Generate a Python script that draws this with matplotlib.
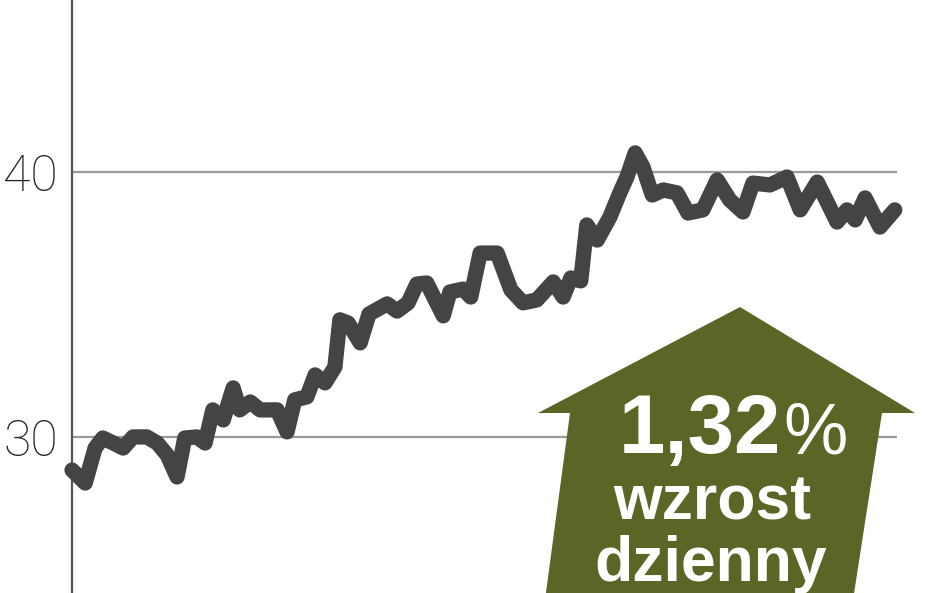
import matplotlib
matplotlib.use('Agg')
import matplotlib.pyplot as plt
from matplotlib.patches import Polygon

# notowania (dzien sesji, kurs)
dni = [0, 2.4, 4.2, 5.6, 7.5, 9.3, 11.1, 13.6, 15.5, 17.3, 19.1, 20.5, 22.7, 24.2,
       25.6, 27.5, 29.3, 30.5, 32.4, 34.2, 37.3, 39.1, 40.5, 42.7, 44.2, 46.0,
       47.8, 48.7, 50.2, 52.4, 54.0, 57.3, 59.1, 61.1, 62.7, 64.5, 67.5, 68.7,
       71.1, 72.5, 74.2, 77.3, 79.8, 82.0, 84.5, 87.5, 89.3, 90.7, 92.5, 93.6,
       95.5, 97.8, 99.6, 100.9, 102.4, 103.8, 105.5, 107.5, 110.0, 112.0, 114.7,
       117.3, 119.6, 122.0, 123.8, 126.9, 130.0, 132.4, 135.5, 139.1, 140.9,
       142.4, 144.2, 146.9, 149.6]
kurs = [28.75, 28.26, 29.58, 29.96, 29.77, 29.58, 30.0, 30.0, 29.77, 29.32, 28.49,
        29.96, 30.0, 29.77, 31.02, 30.64, 31.85, 31.02, 31.32, 31.02, 31.02, 30.19,
        31.40, 31.51, 32.34, 32.04, 32.64, 34.42, 34.30, 33.55, 34.64, 35.02, 34.75,
        35.06, 35.77, 35.81, 34.57, 35.47, 35.58, 35.28, 36.94, 36.94, 35.55, 35.06,
        35.17, 35.85, 35.28, 36.0, 35.89, 38.0, 37.43, 38.30, 39.21, 39.81, 40.72,
        40.19, 39.13, 39.32, 39.21, 38.45, 38.57, 39.70, 38.94, 38.49, 39.58, 39.51,
        39.81, 38.57, 39.62, 38.11, 38.57, 38.19, 39.02, 37.92, 38.57]

yticks = [30, 40]
zmiana = '1,32'

W, H = 948, 593
fig = plt.figure(figsize=(W / 100, H / 100), dpi=100)
fig.patch.set_facecolor('white')

ax = fig.add_axes([72 / W, 0, (897 - 72) / W, 1])
ax.set_xlim(0, 150)
ax.set_ylim(24.11, 46.49)

ax.plot(dni, kurs, color='#444444', lw=11, solid_joinstyle='round',
        solid_capstyle='round', clip_on=False, zorder=3)

ax.set_yticks(yticks)
ax.set_yticklabels([str(t) for t in yticks], fontsize=36, color='#222222',
                   family=['Roboto', 'DejaVu Sans'], fontweight='light')
ax.tick_params(axis='y', length=0, pad=10)
ax.set_xticks([])
ax.yaxis.grid(True, color='#9a9a9a', lw=1.6)
ax.set_axisbelow(True)
for s in ['top', 'right', 'bottom']:
    ax.spines[s].set_visible(False)
ax.spines['left'].set_color('#555555')
ax.spines['left'].set_linewidth(1.6)

# strzalka
def px(x, y):
    return (x / W, 1 - y / H)

pts = [px(740, 307), px(915, 413), px(882, 413), px(853, 600),
       px(545, 600), px(570, 413), px(538, 413)]
fig.patches.append(Polygon(pts, closed=True, transform=fig.transFigure,
                           facecolor='#5b6526', edgecolor='none', zorder=5))

fx, fy = px(781, 453)
fig.text(fx, fy, zmiana, color='white', fontsize=60, fontweight='bold',
         family='Liberation Sans', ha='right', va='baseline', zorder=6)
fx, fy = px(783, 453)
fig.text(fx, fy, '%', color='white', fontsize=52,
         family='Liberation Sans', ha='left', va='baseline', zorder=6)
fx, fy = px(712, 520)
fig.text(fx, fy, 'wzrost', color='white', fontsize=45, fontweight='bold',
         family='Liberation Sans', ha='center', va='baseline', zorder=6)
fx, fy = px(711, 581)
fig.text(fx, fy, 'dzienny', color='white', fontsize=45, fontweight='bold',
         family='Liberation Sans', ha='center', va='baseline', zorder=6)

fig.savefig('out.png', dpi=100)
